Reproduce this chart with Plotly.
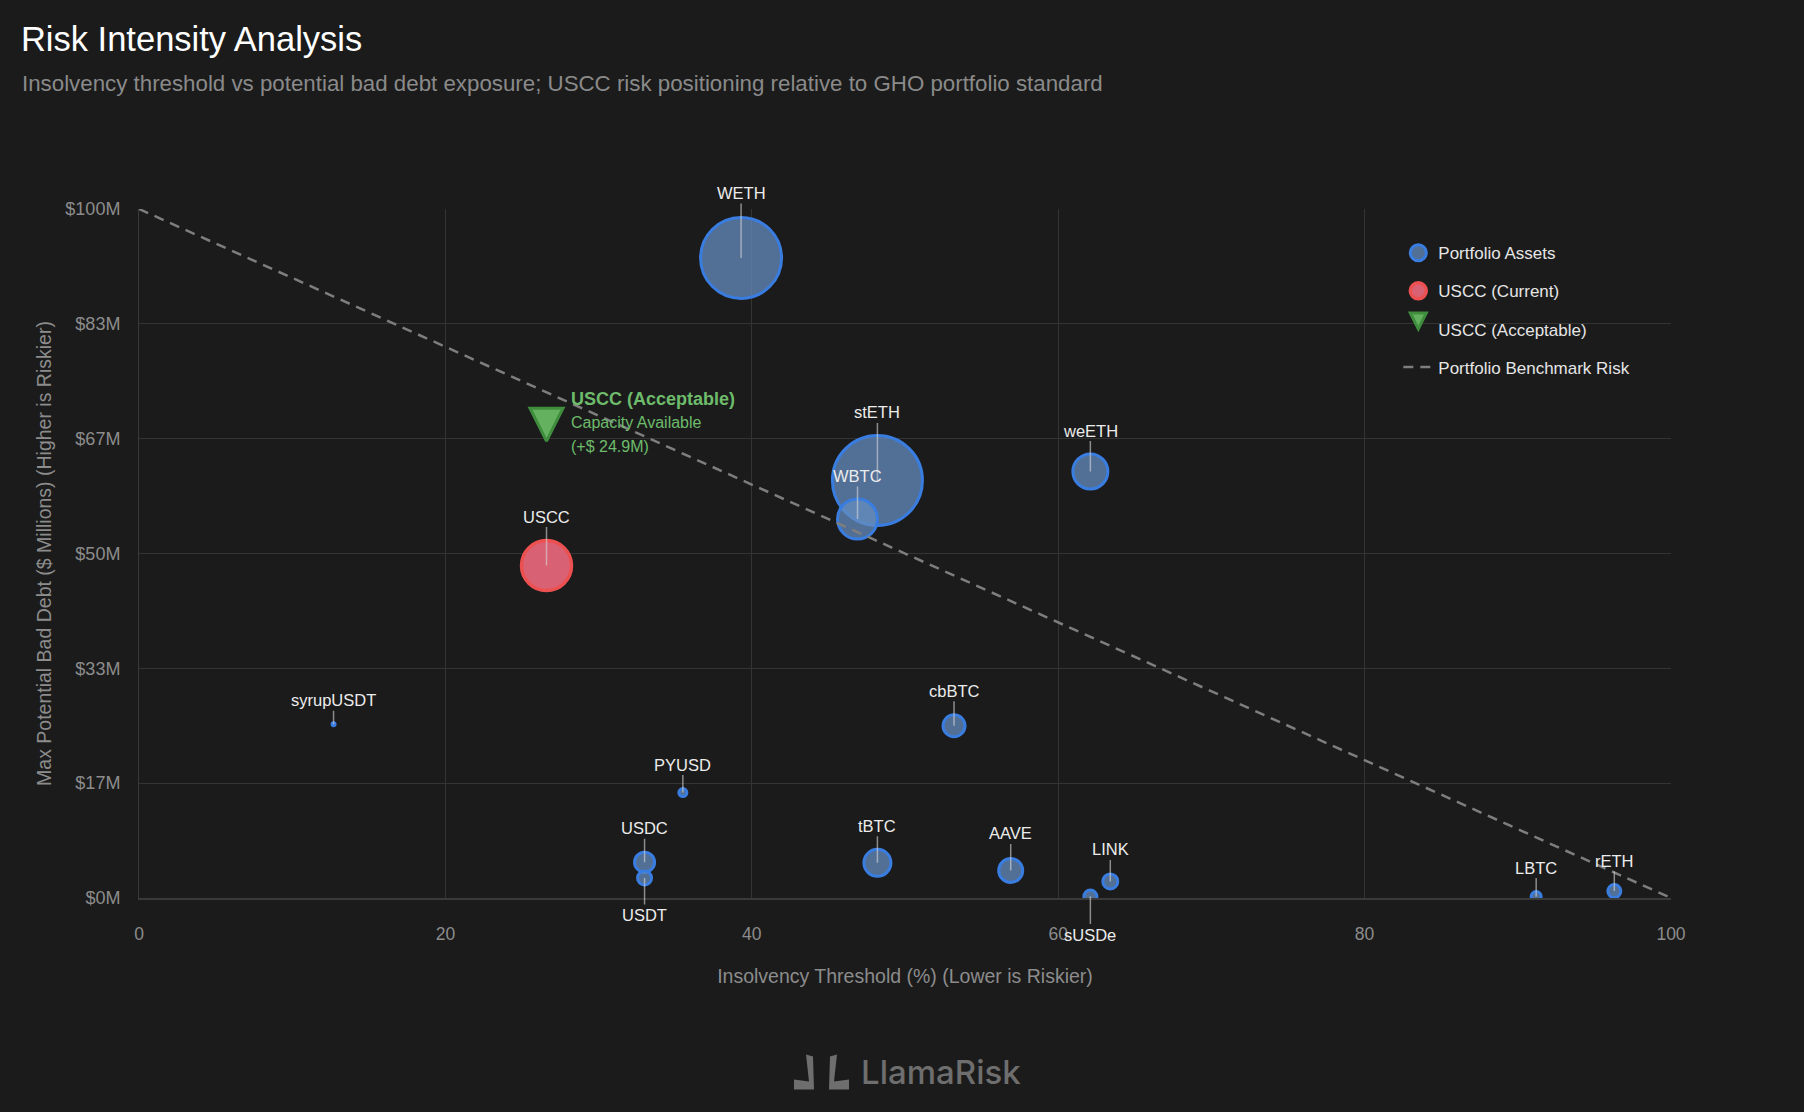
import plotly.graph_objects as go

# ---------------- data ----------------
asset_names = ["WETH", "stETH", "WBTC", "weETH", "syrupUSDT", "PYUSD", "USDC", "USDT",
               "tBTC", "cbBTC", "AAVE", "sUSDe", "LINK", "LBTC", "rETH"]
asset_threshold = [39.3, 48.2, 46.9, 62.1, 12.7, 35.5, 33.0, 33.0,
                   48.2, 53.2, 56.9, 62.1, 63.4, 91.2, 96.3]
asset_bad_debt = [92.9, 60.6, 55.0, 61.9, 25.2, 15.3, 5.2, 2.9,
                  5.1, 25.0, 4.0, 0.2, 2.4, 0.2, 1.0]
asset_bubble = [81, 90, 40, 35, 3, 8, 20, 14, 27, 22, 24, 13, 15, 10, 13]
label_offset = [-65, -68, -43, -41, -24, -28, -34, 37, -37, -35, -37, 38, -32, -29, -30]

uscc_name = "USCC"
uscc_threshold = [26.6]
uscc_bad_debt = [48.25]
uscc_bubble = [50]
uscc_label_offset = -49

acceptable_threshold = [26.6]
acceptable_bad_debt = [66.3]
capacity_text = "(+$ 24.9M)"

benchmark_x = [0, 100]
benchmark_y = [100, 0]

y_tick_values = [0, 100 / 6, 200 / 6, 50, 400 / 6, 500 / 6, 100]
y_tick_labels = ["$0M", "$17M", "$33M", "$50M", "$67M", "$83M", "$100M"]
x_tick_values = [0, 20, 40, 60, 80, 100]

# ---------------- style ----------------
BG = "#1b1b1b"
GRID = "#343434"
FONT = "Helvetica Neue, Helvetica, Arial, Liberation Sans, sans-serif"
TICK_C = "#8c8c8c"

fig = go.Figure()

fig.add_trace(go.Scatter(
    x=asset_threshold, y=asset_bad_debt, mode="markers", name="Portfolio Assets",
    text=asset_names, legendgroup="a",
    marker=dict(size=asset_bubble, sizemode="diameter", opacity=1,
                color="rgba(102,142,192,0.75)",
                line=dict(color="#3a7de0", width=3)),
))
fig.add_trace(go.Scatter(
    x=uscc_threshold, y=uscc_bad_debt, mode="markers", name="USCC (Current)",
    legendgroup="b",
    marker=dict(size=uscc_bubble, sizemode="diameter", opacity=1,
                color="rgba(216,98,116,1)",
                line=dict(color="#ec5050", width=3.5)),
))
fig.add_trace(go.Scatter(
    x=acceptable_threshold, y=acceptable_bad_debt, mode="markers", name="USCC (Acceptable)",
    legendgroup="c",
    marker=dict(size=33, symbol="arrow-down", opacity=1, color="rgba(100,178,96,1)",
                line=dict(color="#3e8e3e", width=3)),
))
fig.add_trace(go.Scatter(
    x=benchmark_x, y=benchmark_y, mode="lines", name="Portfolio Benchmark Risk",
    legendgroup="d",
    line=dict(color="#7e7e7e", width=2.5, dash="10px,7px"),
))

annotations = []
for n, xv, yv, off in zip(asset_names, asset_threshold, asset_bad_debt, label_offset):
    annotations.append(dict(
        x=xv, y=yv, xref="x", yref="y", text=n, showarrow=True, arrowhead=0,
        ax=0, ay=off, arrowcolor="rgba(215,215,215,0.6)", arrowwidth=1.5, standoff=0,
        font=dict(size=16.5, color="#ececec", family=FONT),
    ))
annotations.append(dict(
    x=uscc_threshold[0], y=uscc_bad_debt[0], xref="x", yref="y", text=uscc_name,
    showarrow=True, arrowhead=0, ax=0, ay=uscc_label_offset,
    arrowcolor="rgba(215,215,215,0.6)", arrowwidth=1.5, standoff=0,
    font=dict(size=16.5, color="#ececec", family=FONT),
))
annotations.append(dict(
    x=acceptable_threshold[0], y=acceptable_bad_debt[0], xref="x", yref="y",
    text="<b>USCC (Acceptable)</b><br><span style='font-size:16px'>Capacity Available<br>"
         + capacity_text + "</span>",
    showarrow=False, xanchor="left", yanchor="middle", align="left",
    xshift=22, yshift=19,
    font=dict(size=18, color="#6dbb6b", family=FONT),
))
# subtitle
annotations.append(dict(
    xref="paper", yref="paper", x=-0.078, y=1.182, xanchor="left", yanchor="middle",
    text="Insolvency threshold vs potential bad debt exposure; USCC risk positioning relative to GHO portfolio standard",
    showarrow=False, font=dict(size=22.3, color="#8a8a8a", family=FONT),
))
# brand text
annotations.append(dict(
    xref="paper", yref="paper", x=0.5238, y=-0.253, xanchor="center", yanchor="middle",
    text="LlamaRisk", showarrow=False,
    font=dict(size=33, color="#6e6e6e", family="Inter, Liberation Sans, sans-serif", weight=500),
))

shapes = [
    dict(type="path", xref="paper", yref="paper", xsizemode="pixel", ysizemode="pixel",
         xanchor=0.5, yanchor=0,
         path="M -99,-156.5 L -92,-158.5 L -91,-191.5 L -111,-191.5 L -111,-181.5 L -96,-183.5 Z",
         fillcolor="#6e6e6e", line=dict(width=0)),
    dict(type="path", xref="paper", yref="paper", xsizemode="pixel", ysizemode="pixel",
         xanchor=0.5, yanchor=0,
         path="M -68,-156.5 L -75,-158.5 L -76,-191.5 L -56,-191.5 L -56,-181.5 L -71,-183.5 Z",
         fillcolor="#6e6e6e", line=dict(width=0)),
]

fig.update_layout(
    width=1804, height=1112,
    paper_bgcolor=BG, plot_bgcolor=BG,
    margin=dict(l=139, r=133, t=209, b=214),
    font=dict(family=FONT, color="#e0e0e0"),
    title=dict(text="Risk Intensity Analysis", x=0.0116, xanchor="left", xref="container",
               y=0.965, yanchor="middle", yref="container",
               font=dict(size=34.5, color="#ffffff", family=FONT)),
    showlegend=True,
    legend=dict(x=0.822, y=0.962, xanchor="left", yanchor="top", bgcolor="rgba(0,0,0,0)",
                font=dict(size=17, color="#e6e6e6", family=FONT), itemsizing="trace",
                tracegroupgap=13, traceorder="grouped"),
    annotations=annotations,
    shapes=shapes,
    hovermode="closest",
)
fig.update_xaxes(
    range=[0, 100], tickvals=x_tick_values, showgrid=True, gridcolor=GRID, gridwidth=1,
    zeroline=False, showline=True, linecolor="#3a3a3a", linewidth=2, mirror=False,
    tickfont=dict(size=17.5, color=TICK_C), ticks="", ticklabelstandoff=19,
    title=dict(text="Insolvency Threshold (%) (Lower is Riskier)", standoff=26,
               font=dict(size=19.5, color=TICK_C)),
)
fig.update_yaxes(
    range=[0, 100], tickvals=y_tick_values, ticktext=y_tick_labels, showgrid=True,
    gridcolor=GRID, gridwidth=1, zeroline=False, showline=True, linecolor="#3a3a3a",
    linewidth=1, tickfont=dict(size=18, color=TICK_C), ticks="", ticklabelstandoff=14,
    title=dict(text="Max Potential Bad Debt ($ Millions) (Higher is Riskier)", standoff=8,
               font=dict(size=19.5, color=TICK_C)),
)

fig.write_html("out.html")
